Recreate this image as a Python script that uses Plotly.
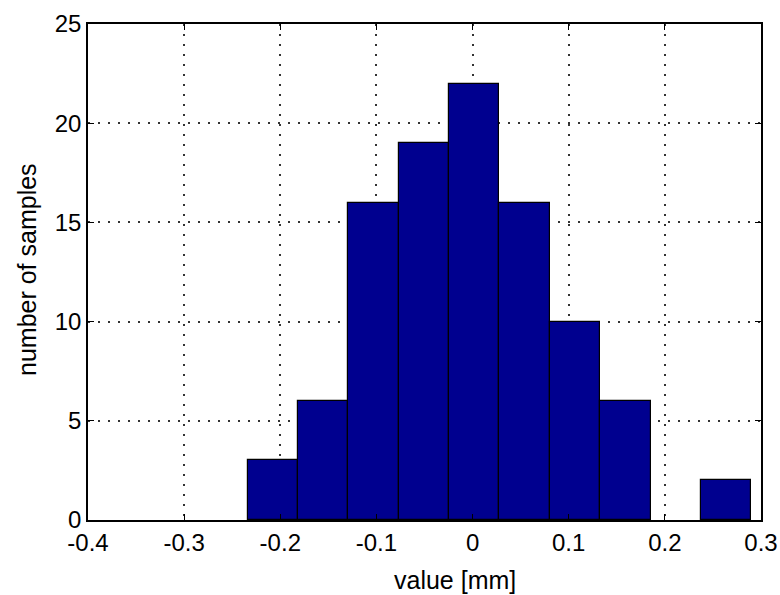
import plotly.graph_objects as go

bin_centers = [-0.2078, -0.1554, -0.1030, -0.0506, 0.0018, 0.0542, 0.1066, 0.1590, 0.2114, 0.2638]
counts = [3, 6, 16, 19, 22, 16, 10, 6, 0, 2]
bin_width = 0.0524
x_ticks = [-0.4, -0.3, -0.2, -0.1, 0, 0.1, 0.2, 0.3]
x_tick_labels = ["-0.4", "-0.3", "-0.2", "-0.1", "0", "0.1", "0.2", "0.3"]
y_ticks = [0, 5, 10, 15, 20, 25]
x_title = "value [mm]"
y_title = "number of samples"

FONT = "Liberation Sans, Arial, sans-serif"

fig = go.Figure()
fig.add_trace(go.Bar(
    x=bin_centers, y=counts, width=[bin_width] * len(counts),
    marker=dict(color="#00008F",
                line=dict(color="black", width=[1.2 if c > 0 else 0 for c in counts])),
))

axis_common = dict(
    showline=True, linecolor="black", linewidth=1.5, mirror="ticks",
    ticks="inside", ticklen=6, tickcolor="black", tickwidth=1.2,
    showgrid=True, gridcolor="rgba(0,0,0,0.8)", griddash="2px,8px", gridwidth=1.5,
    zeroline=False, automargin=False,
    tickfont=dict(family=FONT, size=24, color="black"),
)

fig.update_layout(
    width=780, height=595,
    margin=dict(l=88, r=19, t=24, b=75),
    paper_bgcolor="white", plot_bgcolor="white",
    showlegend=False, bargap=0,
    xaxis=dict(range=[-0.4, 0.3], tickvals=x_ticks, ticktext=x_tick_labels, **axis_common),
    yaxis=dict(range=[0, 25], tickvals=y_ticks, **axis_common),
    annotations=[
        dict(text=x_title, xref="paper", yref="paper", x=(455 - 88) / 673, y=-(580 - 520) / 496,
             xanchor="center", yanchor="middle", showarrow=False,
             font=dict(family=FONT, size=25, color="black")),
        dict(text=y_title, xref="paper", yref="paper", x=-(88 - 27) / 673, y=(520 - 270) / 496,
             xanchor="center", yanchor="middle", showarrow=False, textangle=-90,
             font=dict(family=FONT, size=25, color="black")),
    ],
)

fig.write_html("out.html")
